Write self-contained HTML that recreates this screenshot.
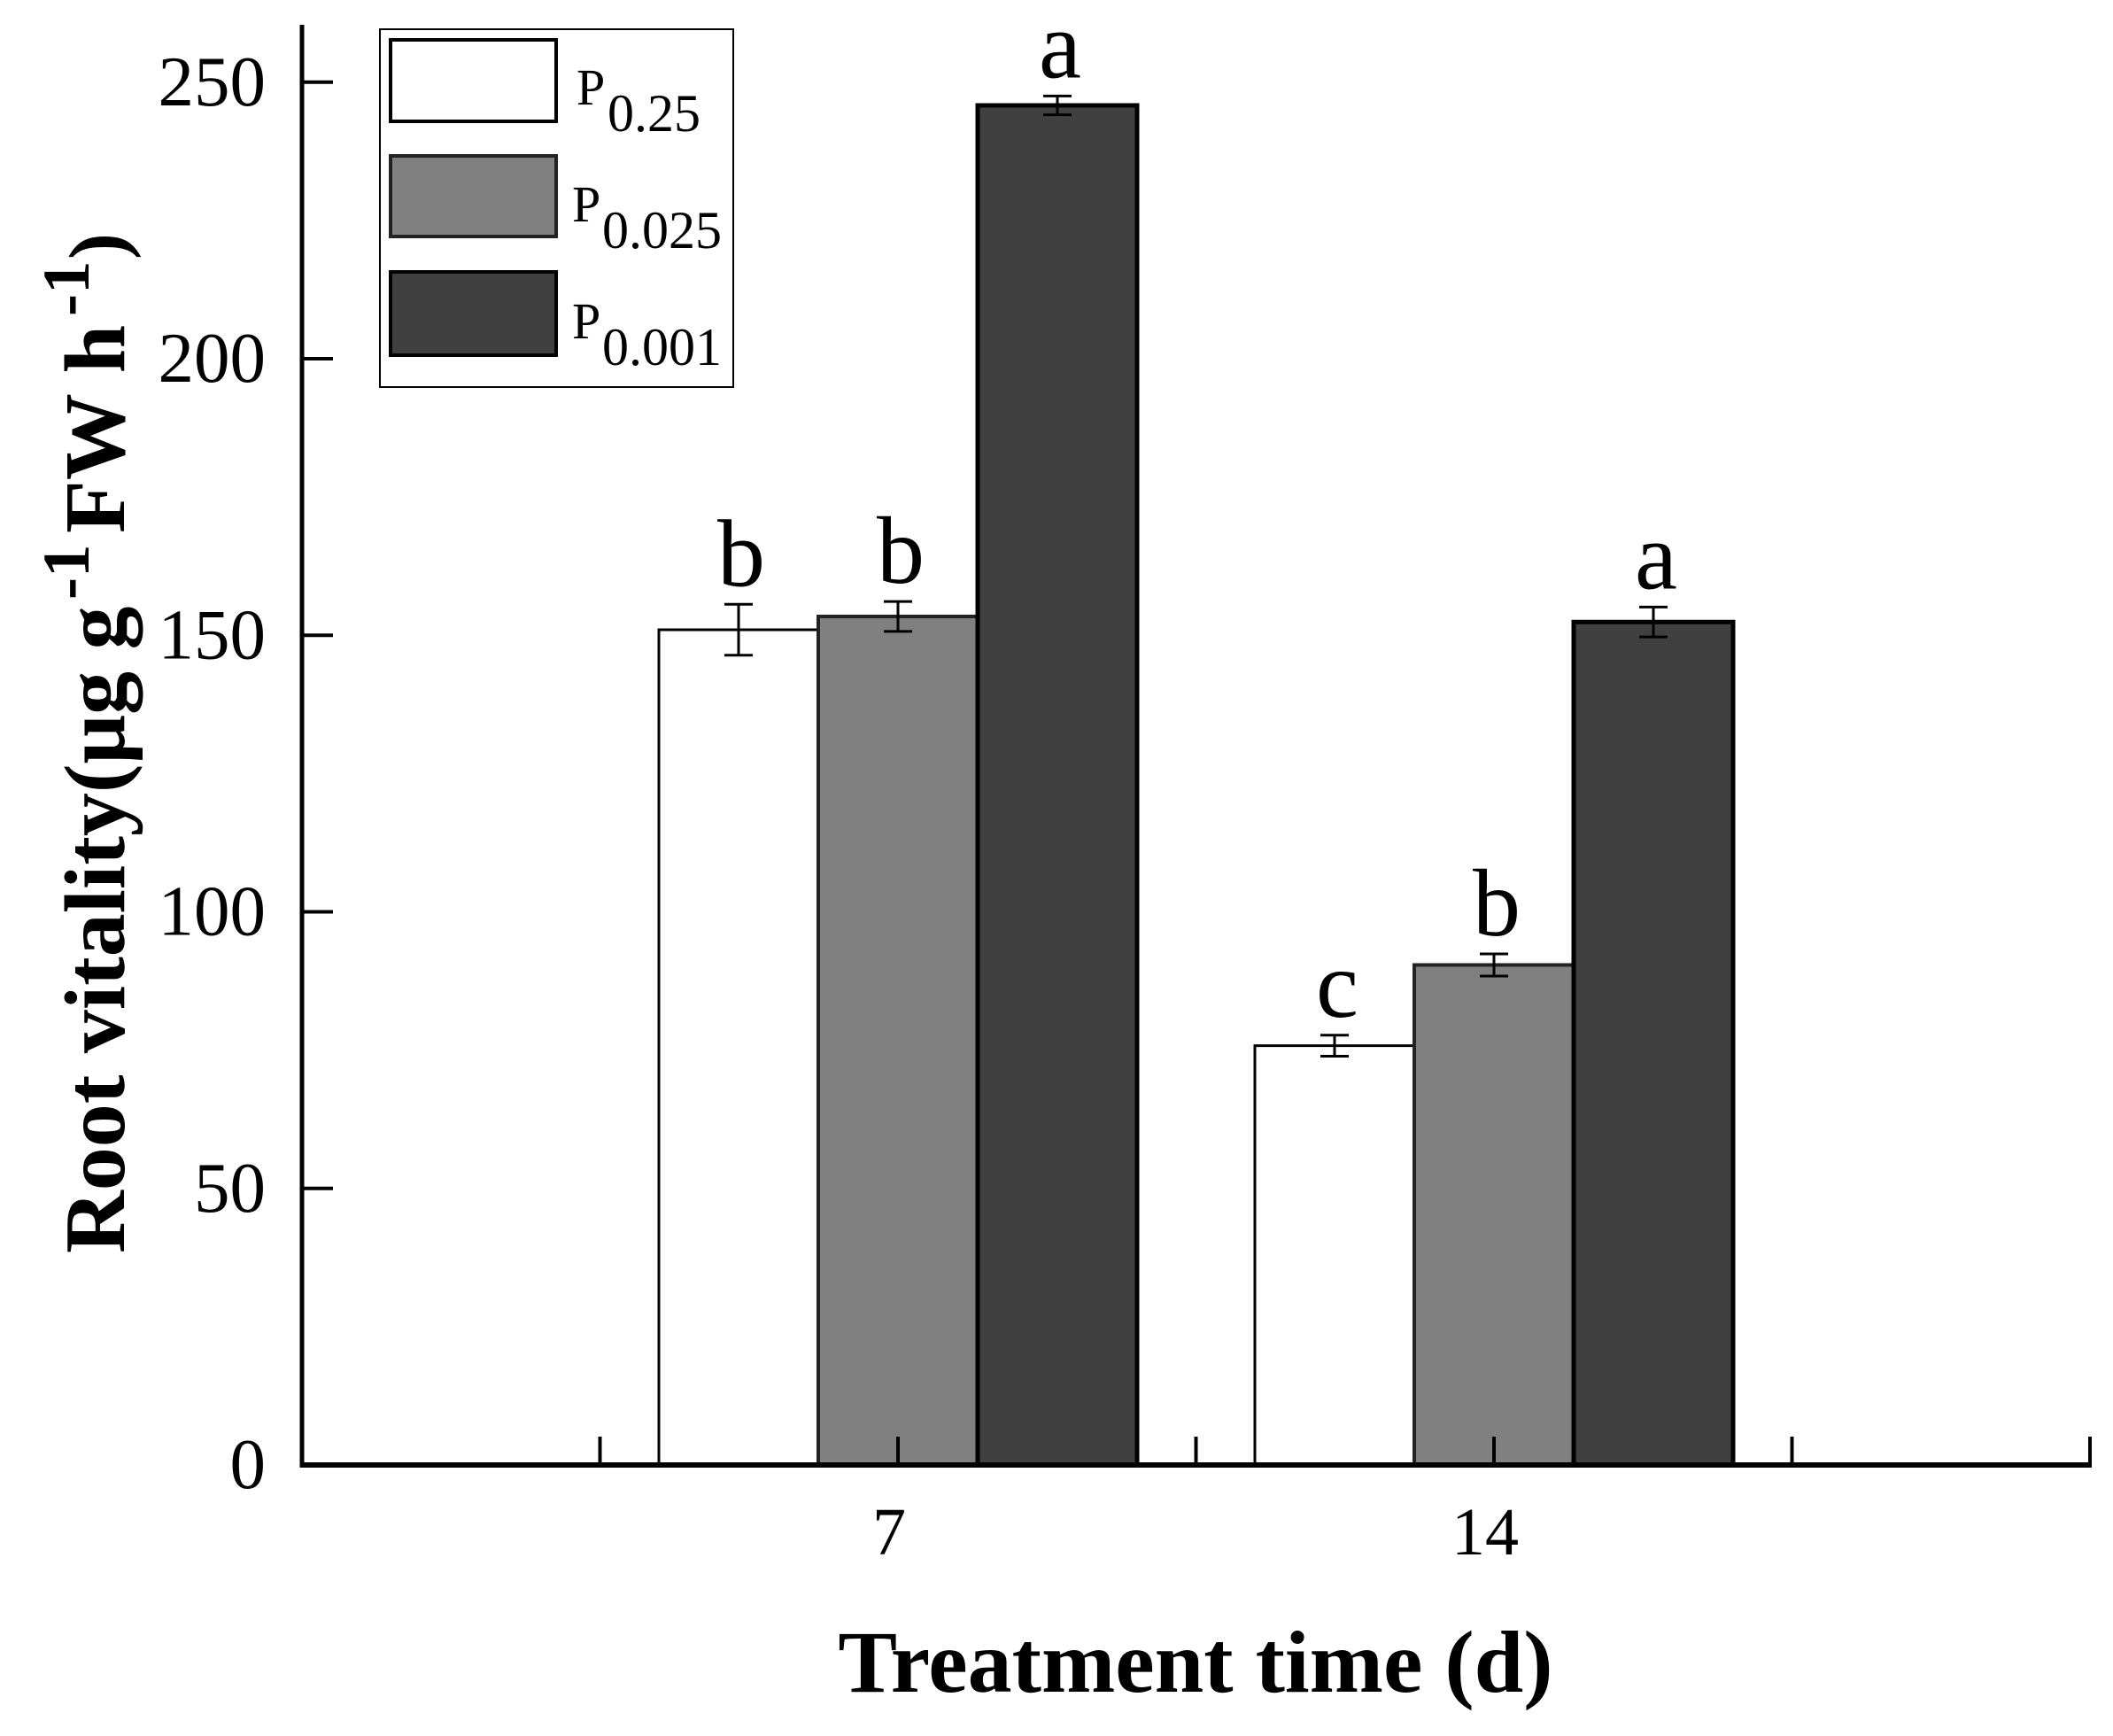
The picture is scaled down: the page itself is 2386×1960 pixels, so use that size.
<!DOCTYPE html>
<html lang="en">
<head>
<meta charset="utf-8">
<title>Root vitality by treatment time</title>
<style>
html,body{margin:0;padding:0;background:#fff;}
svg{display:block;}
text{font-family:"Liberation Serif",serif;fill:#000;}
</style>
</head>
<body>
<svg id="chart" xmlns="http://www.w3.org/2000/svg" width="2386" height="1960" viewBox="0 0 2386 1960">
  <rect x="0" y="0" width="2386" height="1960" fill="#fff"/>
  <g id="bars"></g>
  <g id="errors"></g>
  <g id="letters"></g>
  <g id="axes"></g>

  <g transform="translate(140,1415) rotate(-90)">
    <text x="0" y="0" font-size="98" font-weight="bold">Root vitality(μg g</text>
    <text x="738" y="-40" font-size="75" font-weight="bold">-1</text>
    <text x="813" y="0" font-size="98" font-weight="bold">FW h</text>
    <text x="1058" y="-40" font-size="75" font-weight="bold">-1</text>
    <text x="1122" y="0" font-size="90" font-weight="bold">)</text>
  </g>
  <text x="1350" y="1910" font-size="100" font-weight="bold" text-anchor="middle">Treatment time (d)</text>

  <g>
    <rect x="429" y="33" width="399" height="404" fill="#fff" stroke="#000" stroke-width="2"/>
    <g>
      <rect x="441" y="45" width="187" height="92" fill="#fff" stroke="#000" stroke-width="4"/>
      <text x="651" y="118" font-size="58">P</text>
      <text x="686" y="148" font-size="60">0.25</text>
    </g>
    <g>
      <rect x="441" y="176" width="187" height="91" fill="#808080" stroke="#222" stroke-width="4"/>
      <text x="646" y="250" font-size="58">P</text>
      <text x="680" y="280" font-size="60">0.025</text>
    </g>
    <g>
      <rect x="441" y="307" width="187" height="94" fill="#404040" stroke="#000" stroke-width="4"/>
      <text x="646" y="382" font-size="58">P</text>
      <text x="680" y="412" font-size="60">0.001</text>
    </g>
  </g>
</svg>

<script>
var categories = ["7", "14"];
var categorySlots = [2, 4];
var seriesNames = ["P0.25", "P0.025", "P0.001"];
var seriesP025 = [151, 75.8];
var seriesP0025 = [153.4, 90.4];
var seriesP0001 = [245.8, 152.4];
var errorP025 = [4.6, 1.9];
var errorP0025 = [2.7, 2];
var errorP0001 = [1.7, 2.7];
var lettersP025 = ["b", "c"];
var lettersP0025 = ["b", "b"];
var lettersP0001 = ["a", "a"];
var yTicks = [0, 50, 100, 150, 200, 250];
var xTickSlots = [1, 2, 3, 4, 5, 6];

var NS = "http://www.w3.org/2000/svg";
var AXIS_LEFT = 341, AXIS_RIGHT = 2360, AXIS_BOTTOM = 1654, AXIS_TOP = 28;
var PX_PER_UNIT = 6.245, SLOT_COUNT = 6, BAR_WIDTH = 180;

function yScale(v) { return AXIS_BOTTOM - v * PX_PER_UNIT; }
function xScale(slot) { return AXIS_LEFT + slot * (AXIS_RIGHT - AXIS_LEFT) / SLOT_COUNT; }

function make(tag, parent, attrs) {
  var el = document.createElementNS(NS, tag);
  for (var k in attrs) el.setAttribute(k, attrs[k]);
  parent.appendChild(el);
  return el;
}

var barsLayer = document.getElementById("bars");
var errorsLayer = document.getElementById("errors");
var lettersLayer = document.getElementById("letters");
var axesLayer = document.getElementById("axes");

var seriesStyle = [
  { values: seriesP025, errors: errorP025, letters: lettersP025, fill: "#ffffff", stroke: "#000", width: 3 },
  { values: seriesP0025, errors: errorP0025, letters: lettersP0025, fill: "#808080", stroke: "#222", width: 4 },
  { values: seriesP0001, errors: errorP0001, letters: lettersP0001, fill: "#404040", stroke: "#000", width: 5 }
];

seriesStyle.forEach(function (s, si) {
  categories.forEach(function (cat, ci) {
    var cx = xScale(categorySlots[ci]) + (si - 1) * BAR_WIDTH;
    var top = yScale(s.values[ci]);
    var bar = make("rect", barsLayer, {
      x: cx - BAR_WIDTH / 2, y: top, width: BAR_WIDTH, height: AXIS_BOTTOM - top,
      fill: s.fill, stroke: s.stroke, "stroke-width": s.width
    });
    
    

    var hi = yScale(s.values[ci] + s.errors[ci]);
    var lo = yScale(s.values[ci] - s.errors[ci]);
    var err = make("path", errorsLayer, {
      d: "M" + (cx - 16) + " " + hi + "H" + (cx + 16) + "M" + (cx - 16) + " " + lo + "H" + (cx + 16) + "M" + cx + " " + hi + "V" + lo,
      fill: "none", stroke: "#000", "stroke-width": 3
    });
    
    

    var letter = make("text", lettersLayer, {
      x: cx + 3, y: hi - 21, "font-size": 108, "text-anchor": "middle"
    });
    letter.textContent = s.letters[ci];
    
    
  });
});

var yAxisLine = make("line", axesLayer, {
  x1: AXIS_LEFT, y1: AXIS_TOP, x2: AXIS_LEFT, y2: AXIS_BOTTOM + 3, stroke: "#000", "stroke-width": 5
});



var xAxisLine = make("line", axesLayer, {
  x1: AXIS_LEFT - 2, y1: AXIS_BOTTOM, x2: AXIS_RIGHT + 2, y2: AXIS_BOTTOM, stroke: "#000", "stroke-width": 6
});



yTicks.forEach(function (t) {
  var y = yScale(t);
  if (t !== 0) {
    var tick = make("line", axesLayer, {
      x1: AXIS_LEFT, y1: y, x2: AXIS_LEFT + 35, y2: y, stroke: "#000", "stroke-width": 4
    });
    
    
  }
  var label = make("text", axesLayer, {
    x: 300, y: y + 26, "font-size": 81, "text-anchor": "end"
  });
  label.textContent = String(t);
  
  
});

xTickSlots.forEach(function (slot) {
  var x = xScale(slot);
  var tick = make("line", axesLayer, {
    x1: x, y1: AXIS_BOTTOM - 32, x2: x, y2: AXIS_BOTTOM, stroke: "#000", "stroke-width": 4
  });
  
  
});

categories.forEach(function (cat, ci) {
  var label = make("text", axesLayer, {
    x: xScale(categorySlots[ci]) - 10, y: 1755, "font-size": 76, "text-anchor": "middle"
  });
  label.textContent = cat;
  
  
});
</script>
</body>
</html>
